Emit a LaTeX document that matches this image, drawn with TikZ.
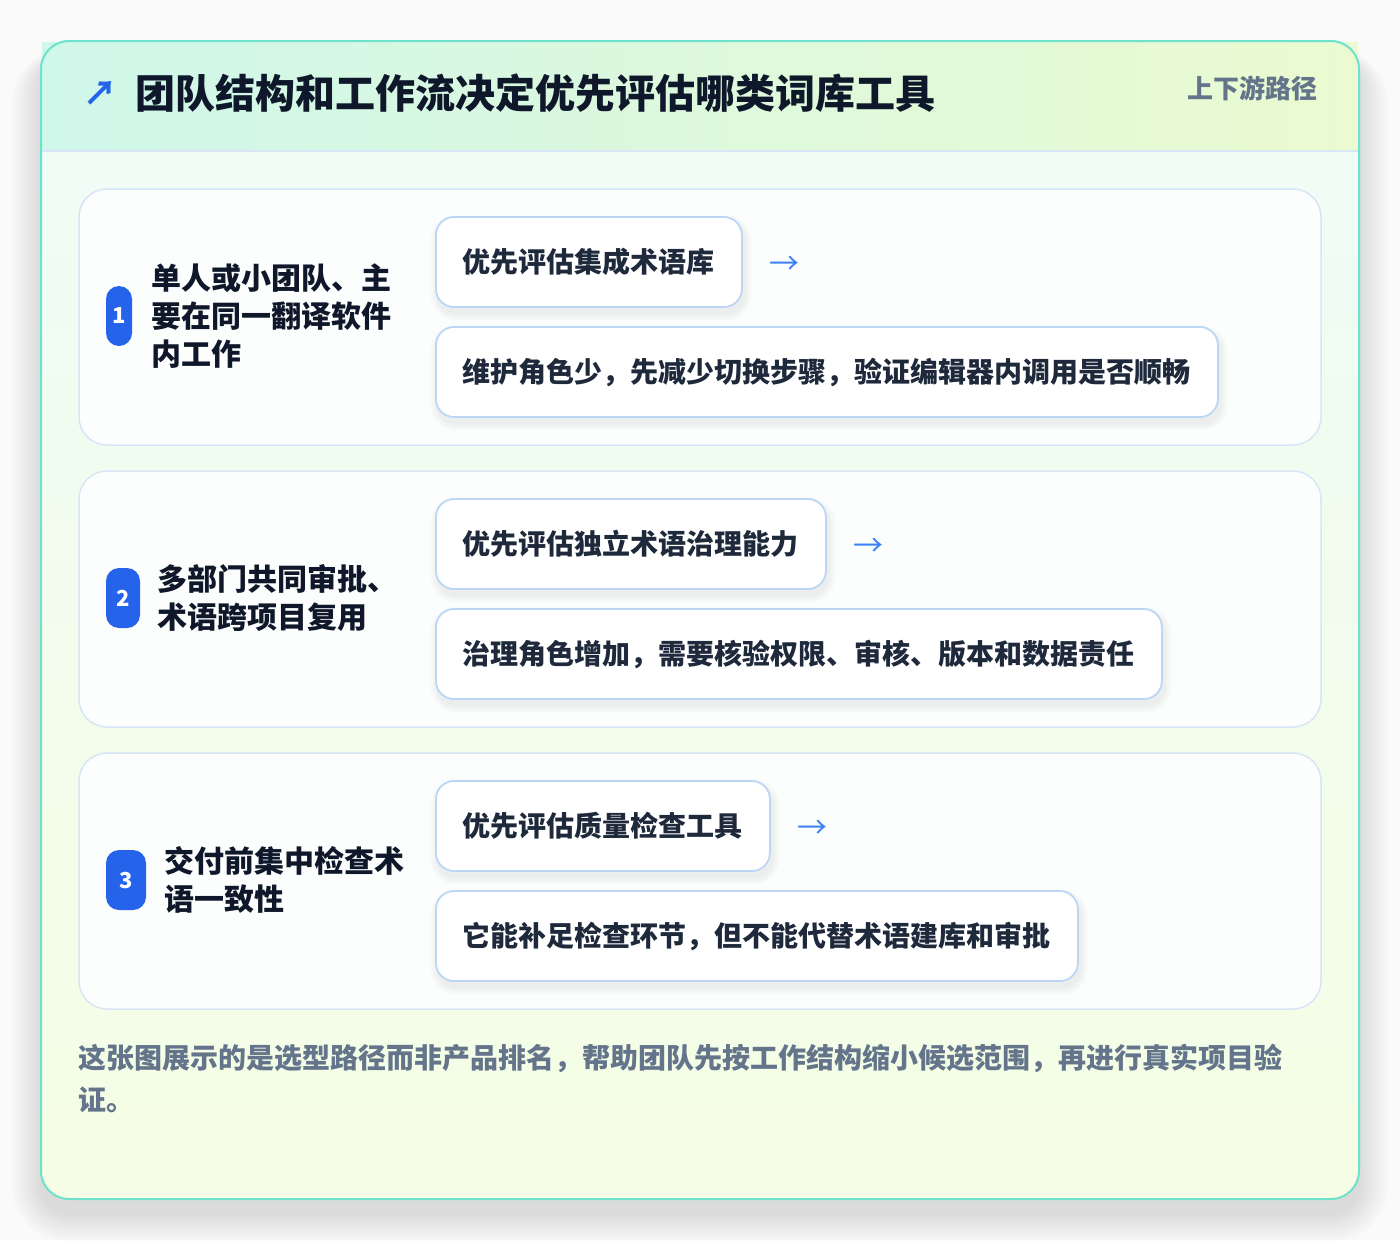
\documentclass[tikz,border=0pt]{standalone}
\usepackage{fontspec}
\setmainfont{Noto Sans CJK SC}
\usetikzlibrary{positioning}
\definecolor{pagebg}{HTML}{FAFAFA}
\definecolor{cardline}{HTML}{6EE2CC}
\definecolor{headL}{HTML}{CFF7EA}
\definecolor{headR}{HTML}{EBFAD0}
\definecolor{bodyT}{HTML}{EFFCF7}
\definecolor{bodyB}{HTML}{F5FDE4}
\definecolor{sepline}{HTML}{D9E6F8}
\definecolor{rowline}{HTML}{D8E5F6}
\definecolor{rowfill}{HTML}{FCFEFD}
\definecolor{pillline}{HTML}{BCD6F5}
\definecolor{badgeblue}{HTML}{2563EB}
\definecolor{arrowblue}{HTML}{3B82F6}
\definecolor{ink}{HTML}{0F172A}
\definecolor{pillink}{HTML}{1E293B}
\definecolor{muted}{HTML}{64748B}
\tikzset{
  rowbox/.style={draw=rowline, line width=1.5pt, fill=rowfill, rounded corners=28pt},
  pillbox/.style={draw=pillline, line width=1.8pt, fill=white, rounded corners=18pt,
    inner xsep=27pt, inner ysep=0pt, minimum height=90pt, anchor=west,
    font=\fontsize{28}{34}\selectfont\bfseries, text=pillink},
  badge/.style={fill=badgeblue, rounded corners=13pt, minimum height=60pt, inner sep=0pt,
    text=white, font=\fontsize{22}{26}\selectfont\bfseries},
  rowlabel/.style={anchor=west, inner sep=0pt, align=left, text=ink,
    font=\fontsize{30}{38}\selectfont\bfseries},
  flowarrow/.style={anchor=west, inner sep=0pt, text=arrowblue, font=\fontsize{30}{34}\selectfont},
}
\begin{document}
\begin{tikzpicture}[x=1pt,y=-1pt]
\useasboundingbox (0,0) rectangle (1400,1240);
\fill[pagebg] (0,0) rectangle (1400,1240);
% soft card shadow
\foreach \i in {0,...,30}{
  \fill[black,opacity=0.0035,rounded corners={28+\i}] ({41-\i},{56-0.3*\i}) rectangle ({1359+\i},{1214+\i});
}
% card body
\begin{scope}
  \clip[rounded corners=28pt] (41,41) rectangle (1359,1199);
  \shade[top color=bodyT, bottom color=bodyB] (41,41) rectangle (1359,1199);
\end{scope}
% header band
\shade[left color=headL, right color=headR] (42,42) rectangle (1358,151);
\draw[sepline, line width=1.5pt] (42,151) -- (1358,151);
\draw[cardline, line width=2pt, rounded corners=28pt] (41,41) rectangle (1359,1199);
% title
\node[anchor=west, inner sep=0pt, text=badgeblue, font=\fontsize{34}{40}\selectfont\bfseries] (ticon) at (83,93) {↗};
\node[anchor=west, inner sep=0pt, text=ink, font=\fontsize{40}{48}\selectfont\bfseries] (title) at (135,93) {团队结构和工作流决定优先评估哪类词库工具};
\node[anchor=east, inner sep=0pt, text=muted, font=\fontsize{26}{30}\selectfont\bfseries] (tag) at (1318,88) {上下游路径};
% rows
\draw[rowbox] (79,189) rectangle (1321,445);
\draw[rowbox] (79,471) rectangle (1321,727);
\draw[rowbox] (79,753) rectangle (1321,1009);
% pill shadows
\foreach \y/\w in {262/306, 372/782, 544/390, 654/726, 826/334, 936/642}{
  \foreach \k in {1,...,8}{
    \fill[black,opacity=0.006,rounded corners={18+\k}] ({435-\k+3},{\y-45+6-\k}) rectangle ({435+\w+\k+3},{\y+45+6+\k});
  }
}
% row 1
\node[badge, minimum width=26pt] (b1) at (119,316) {1};
\node[rowlabel] (l1) at (151,316) {单人或小团队、主\\要在同一翻译软件\\内工作};
\node[pillbox] (p1a) at (435,262) {优先评估集成术语库};
\node[flowarrow] (a1) at ([xshift=26pt,yshift=-3pt]p1a.east) {→};
\node[pillbox] (p1b) at (435,372) {维护角色少，先减少切换步骤，验证编辑器内调用是否顺畅};
% row 2
\node[badge, minimum width=34pt] (b2) at (123,598) {2};
\node[rowlabel] (l2) at (157,598) {多部门共同审批、\\术语跨项目复用};
\node[pillbox] (p2a) at (435,544) {优先评估独立术语治理能力};
\node[flowarrow] (a2) at ([xshift=26pt,yshift=-3pt]p2a.east) {→};
\node[pillbox] (p2b) at (435,654) {治理角色增加，需要核验权限、审核、版本和数据责任};
% row 3
\node[badge, minimum width=40pt] (b3) at (126,880) {3};
\node[rowlabel] (l3) at (164,880) {交付前集中检查术\\语一致性};
\node[pillbox] (p3a) at (435,826) {优先评估质量检查工具};
\node[flowarrow] (a3) at ([xshift=26pt,yshift=-3pt]p3a.east) {→};
\node[pillbox] (p3b) at (435,936) {它能补足检查环节，但不能代替术语建库和审批};
% footer
\node[anchor=west, inner sep=0pt, align=left, text=muted, font=\fontsize{28}{42}\selectfont\bfseries] (foot) at (78,1078)
  {这张图展示的是选型路径而非产品排名，帮助团队先按工作结构缩小候选范围，再进行真实项目验\\证。};
\end{tikzpicture}
\end{document}
